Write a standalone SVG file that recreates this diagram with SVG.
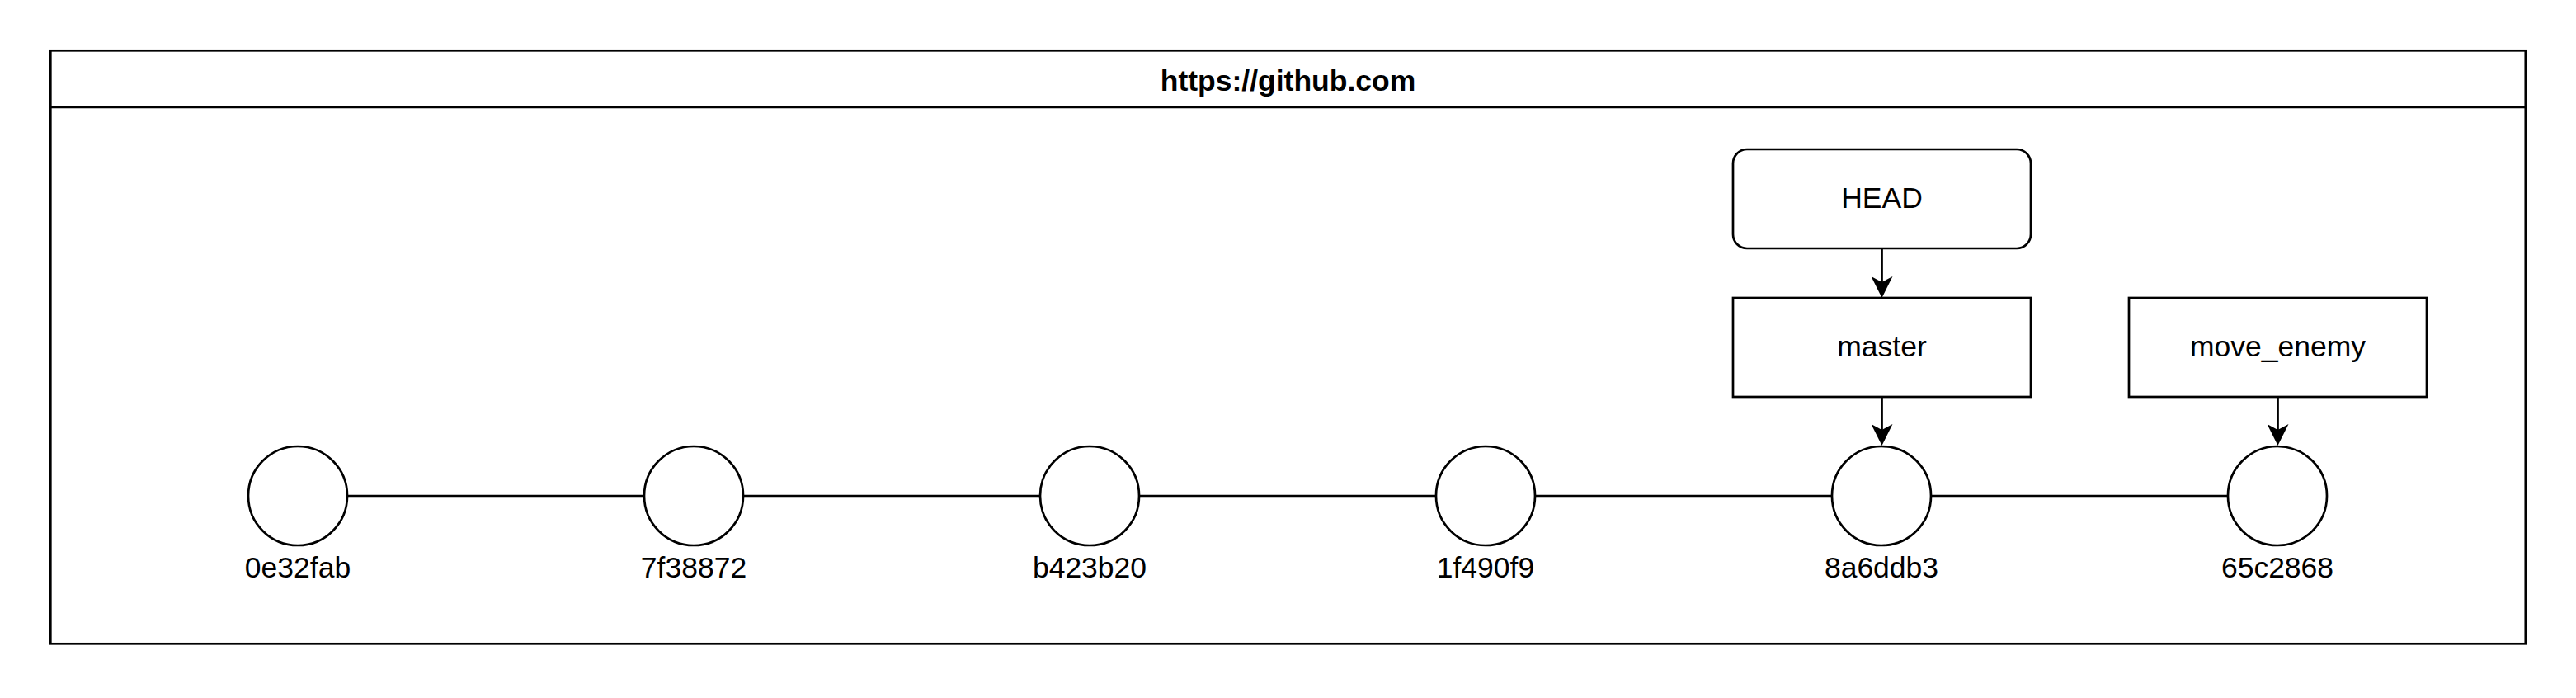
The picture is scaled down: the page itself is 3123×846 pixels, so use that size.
<svg xmlns="http://www.w3.org/2000/svg" width="3123" height="846" viewBox="0 0 3123 846">
<style>
.s{fill:#fff;stroke:#000;stroke-width:2.7}
.t{font-family:"Liberation Sans",Arial,Helvetica,sans-serif;font-size:35.5px;fill:#000;text-anchor:middle}
.b{font-weight:bold}
.c{fill:none;stroke:#000;stroke-width:2.7}
</style>
<defs>
<marker id="arr" viewBox="0 0 26 26" markerWidth="26" markerHeight="26" refX="7" refY="13" orient="auto" markerUnits="userSpaceOnUse">
<path d="M0,0 L26,13 L0,26 L7,13 Z" fill="#000"/>
</marker>
</defs>
<rect width="3123" height="846" fill="#fff"/>
<g id="container">
<rect class="s" x="61.3" y="61.3" width="3000.5" height="719"/>
<line class="c" x1="61.3" y1="130" x2="3061.8" y2="130"/>
<text class="t b" x="1561.5" y="110">https://github.com</text>
</g>
<g id="connectors">
<line class="c" x1="421" y1="601" x2="781" y2="601"/>
<line class="c" x1="901" y1="601" x2="1261" y2="601"/>
<line class="c" x1="1381" y1="601" x2="1741" y2="601"/>
<line class="c" x1="1861" y1="601" x2="2221" y2="601"/>
<line class="c" x1="2341" y1="601" x2="2701" y2="601"/>
<line class="c" x1="2281.5" y1="301" x2="2281.5" y2="342" marker-end="url(#arr)"/>
<line class="c" x1="2281.5" y1="481" x2="2281.5" y2="521" marker-end="url(#arr)"/>
<line class="c" x1="2761.5" y1="481" x2="2761.5" y2="521" marker-end="url(#arr)"/>
</g>
<g id="head">
<rect class="s" x="2101" y="181" width="361" height="120" rx="17" ry="17"/>
<text class="t" x="2281.5" y="252">HEAD</text>
</g>
<g id="master">
<rect class="s" x="2101" y="361" width="361" height="120"/>
<text class="t" x="2281.5" y="432">master</text>
</g>
<g id="move_enemy">
<rect class="s" x="2581" y="361" width="361" height="120"/>
<text class="t" x="2761.5" y="432">move_enemy</text>
</g>
<g id="c0e32fab">
<circle class="s" cx="361" cy="601" r="60"/>
<text class="t" x="361" y="700">0e32fab</text>
</g>
<g id="c7f38872">
<circle class="s" cx="841" cy="601" r="60"/>
<text class="t" x="841" y="700">7f38872</text>
</g>
<g id="cb423b20">
<circle class="s" cx="1321" cy="601" r="60"/>
<text class="t" x="1321" y="700">b423b20</text>
</g>
<g id="c1f490f9">
<circle class="s" cx="1801" cy="601" r="60"/>
<text class="t" x="1801" y="700">1f490f9</text>
</g>
<g id="c8a6ddb3">
<circle class="s" cx="2281" cy="601" r="60"/>
<text class="t" x="2281" y="700">8a6ddb3</text>
</g>
<g id="c65c2868">
<circle class="s" cx="2761" cy="601" r="60"/>
<text class="t" x="2761" y="700">65c2868</text>
</g>
</svg>
